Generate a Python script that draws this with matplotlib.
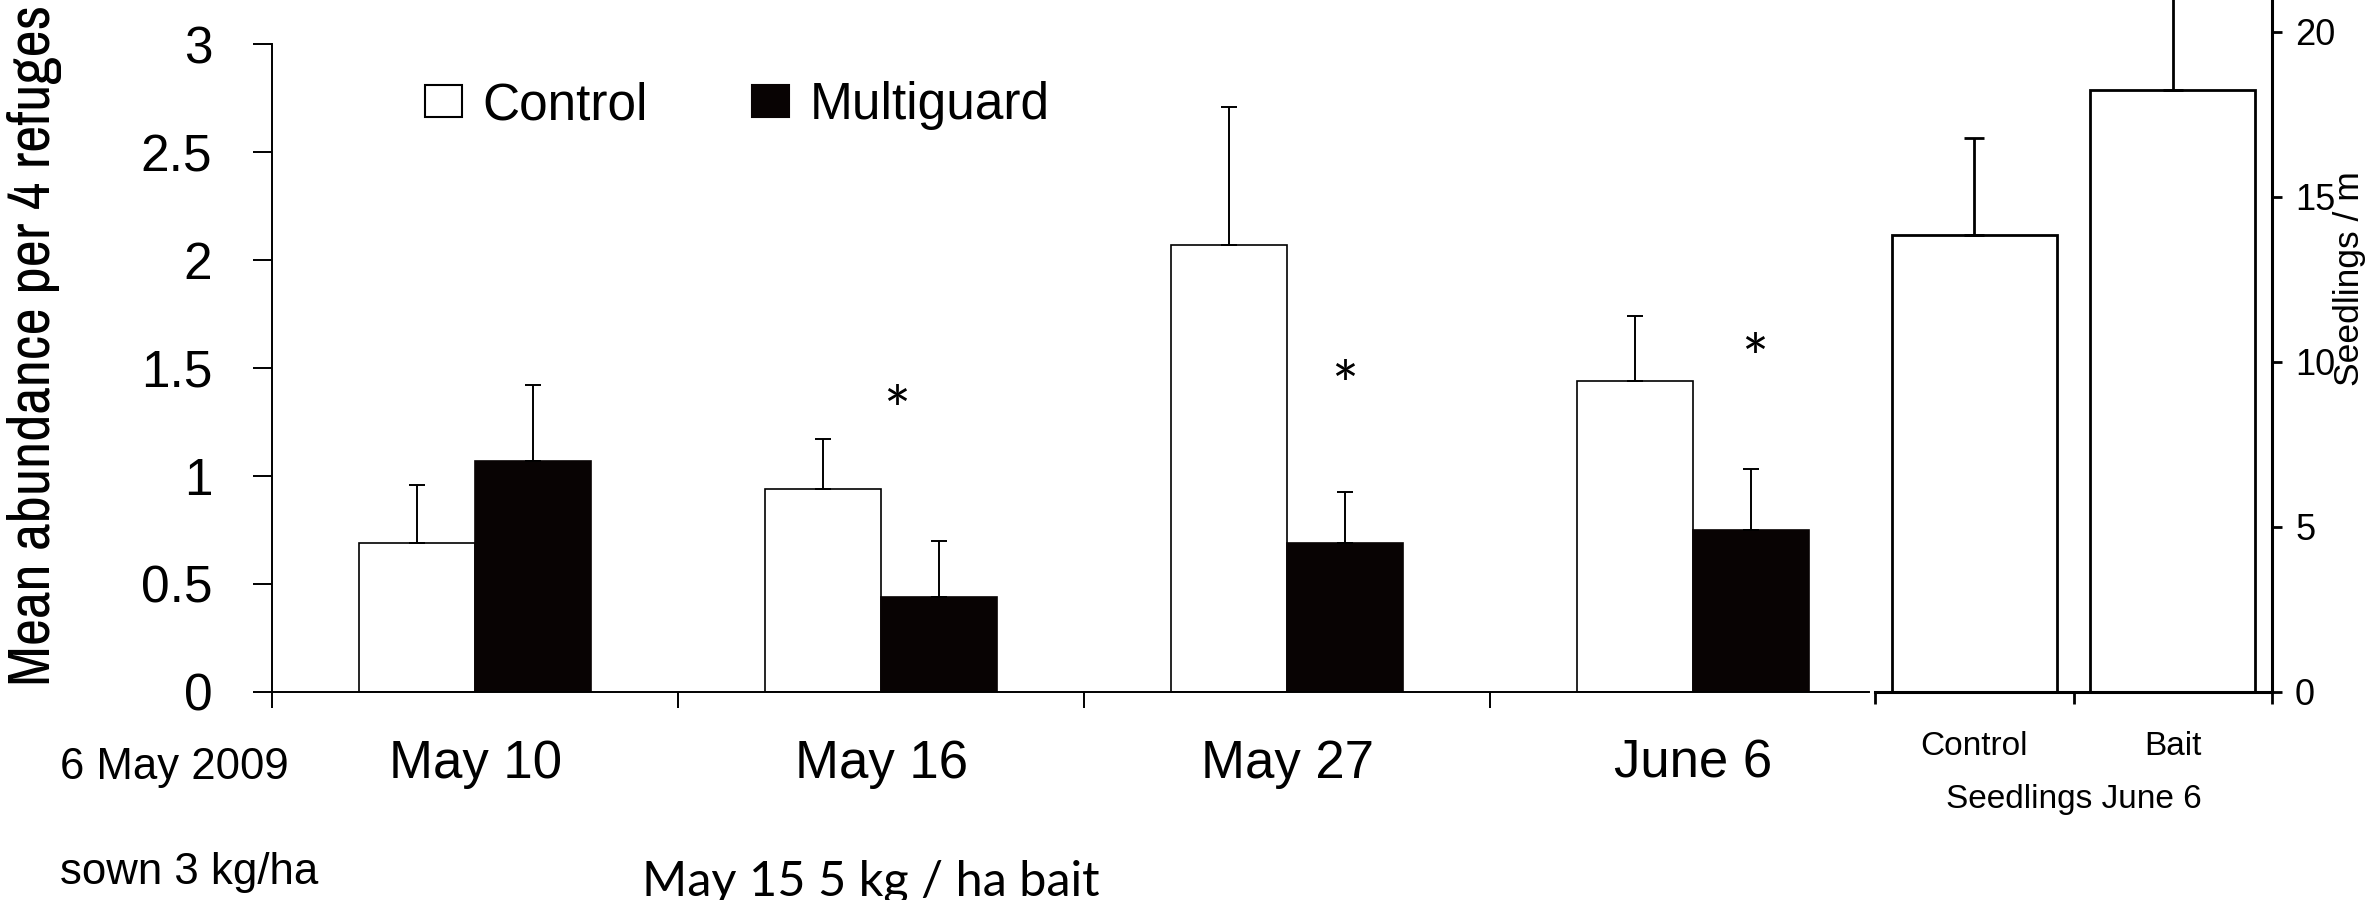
import numpy as np
import matplotlib
matplotlib.use('Agg')
import matplotlib.pyplot as plt
from matplotlib import transforms
from matplotlib.patches import Patch
import matplotlib.font_manager as fm

# ---------------- data ----------------
dates = ['May 10', 'May 16', 'May 27', 'June 6']
control = [0.69, 0.94, 2.07, 1.44]
control_err = [0.27, 0.23, 0.64, 0.30]
multiguard = [1.07, 0.44, 0.69, 0.75]
multiguard_err = [0.35, 0.26, 0.235, 0.28]
star_x = [1.538, 2.640, 3.652]      # asterisk positions (group units)
star_y = [1.375, 1.49, 1.615]
yticks_left = [0, 0.5, 1, 1.5, 2, 2.5, 3]
ytick_labels_left = ['0', '0.5', '1', '1.5', '2', '2.5', '3']

seedling_groups = ['Control', 'Bait']
seedlings = [13.83, 18.23]
seedlings_err = [2.95, 4.6]
yticks_right = [0, 5, 10, 15, 20]

BLACK = '#080303'
W, H = 2366, 900

plt.rcParams['font.family'] = ['Liberation Sans', 'DejaVu Sans']


def find_condensed():
    best = None
    for f in fm.fontManager.ttflist:
        nm = f.name.lower()
        st = f.stretch
        if isinstance(st, str):
            cond = st in ('condensed', 'extra-condensed', 'ultra-condensed', 'semi-condensed')
        else:
            cond = st < 100
        if not (cond or 'narrow' in nm or 'condensed' in nm):
            continue
        if f.style != 'normal':
            continue
        w = f.weight if isinstance(f.weight, int) else (400 if f.weight in ('normal', 'regular', 'book') else 700)
        if w != 400:
            continue
        if 'mono' in nm or 'serif' in nm and 'sans' not in nm:
            continue
        if 'narrow' in nm or 'extracondensed' in nm.replace(' ', '') or st in ('extra-condensed',):
            score = 2
        elif 'semi' in nm or st == 'semi-condensed':
            score = 0
        else:
            score = 1
        if 'dejavu' in nm:
            score -= 1
        if best is None or score > best[0]:
            best = (score, f.fname)
    return best[1] if best else None


cfile = find_condensed()
if cfile:
    ylab_fp = fm.FontProperties(fname=cfile)
else:
    ylab_fp = fm.FontProperties(family='Liberation Sans')

fig = plt.figure(figsize=(W / 100, H / 100), dpi=100)


def px(v):
    return v / W


def py(v):
    return 1 - v / H


# ---------------- main panel ----------------
x0, x1, ytop, ybase = 272.3, 1869.0, 44.2, 691.7
ax = fig.add_axes([px(x0), py(ybase), px(x1) - px(x0), py(ytop) - py(ybase)])
ax.patch.set_alpha(0)
x = np.arange(len(dates)) + 0.5
bw = 0.286
ax.bar(x - bw / 2, control, bw, color='white', edgecolor='black', linewidth=1.2, zorder=2)
ax.bar(x + bw / 2, multiguard, bw, color=BLACK, edgecolor=BLACK, linewidth=1.2, zorder=2)
zeros = np.zeros(len(dates))
ax.errorbar(x - bw / 2, control, yerr=[zeros, control_err], fmt='none', ecolor='black',
            elinewidth=1.4, capsize=5.7, capthick=1.4, zorder=3)
ax.errorbar(x + bw / 2, multiguard, yerr=[zeros, multiguard_err], fmt='none', ecolor='black',
            elinewidth=1.4, capsize=5.7, capthick=1.4, zorder=3)

ax.set_xlim(0, (x1 - x0) / 406.0)
ax.set_ylim(0, 3)
ax.set_xticks([0, 1, 2, 3])
ax.set_xticklabels([])
ax.set_yticks(yticks_left)
ax.set_yticklabels(ytick_labels_left)
ax.tick_params(axis='y', length=13.7, width=1.4, pad=29.5, labelsize=37, colors='black')
ax.tick_params(axis='x', length=11.5, width=1.4)
for s in ['top', 'right']:
    ax.spines[s].set_visible(False)
for s in ['left', 'bottom']:
    ax.spines[s].set_linewidth(1.4)

tr = transforms.blended_transform_factory(ax.transData, fig.transFigure)
for xi, d in zip(x, dates):
    ax.text(xi, py(778), d, transform=tr, ha='center', va='baseline', fontsize=38)

# significance asterisks
STAR_FS = 46
off = transforms.ScaledTranslation(0, -0.6 * STAR_FS / 72, fig.dpi_scale_trans)
for sx, sy in zip(star_x, star_y):
    ax.text(sx, sy, '*', transform=ax.transData + off, ha='center', va='baseline',
            fontsize=STAR_FS, family=['Lato', 'DejaVu Sans'])

handles = [Patch(facecolor='white', edgecolor='black', linewidth=1.5, label='Control'),
           Patch(facecolor=BLACK, edgecolor=BLACK, linewidth=1.5, label='Multiguard')]
ax.legend(handles=handles, loc='center left', bbox_to_anchor=(px(425), py(105.5)),
          bbox_transform=fig.transFigure, ncol=2, frameon=False, fontsize=37,
          handlelength=0.72, handleheight=0.58, handletextpad=0.39,
          columnspacing=2.04, borderpad=0, borderaxespad=0)

# ---------------- seedlings panel ----------------
r0, r1 = 1875.0, 2272.0
ax2 = fig.add_axes([px(r0), py(ybase), px(r1) - px(r0), 1 - py(ybase)])
ax2.patch.set_alpha(0)
xs = np.arange(len(seedling_groups)) + 0.5
ax2.bar(xs, seedlings, 0.83, color='white', edgecolor='black', linewidth=2.0, zorder=2)
ax2.errorbar(xs, seedlings, yerr=[np.zeros(len(xs)), seedlings_err], fmt='none',
             ecolor='black', elinewidth=2.0, capsize=7.5, capthick=2.0, zorder=3)
ax2.set_xlim(0, 2)
ax2.set_ylim(0, ybase / 33.0)
ax2.set_xticks([0, 1, 2])
ax2.set_xticklabels([])
ax2.yaxis.tick_right()
ax2.set_yticks(yticks_right)
ax2.set_yticklabels([str(v) for v in yticks_right])
ax2.tick_params(axis='y', length=7.2, width=2.0, pad=9.4, labelsize=26)
ax2.tick_params(axis='x', length=8.6, width=2.0)
for s in ['top', 'left']:
    ax2.spines[s].set_visible(False)
for s in ['right', 'bottom']:
    ax2.spines[s].set_linewidth(2.2)

tr2 = transforms.blended_transform_factory(ax2.transData, fig.transFigure)
for xi, g in zip(xs, seedling_groups):
    ax2.text(xi, py(755), g, transform=tr2, ha='center', va='baseline', fontsize=24)
ax2.text(1.0, py(808), 'Seedlings June 6', transform=tr2, ha='center', va='baseline', fontsize=24)

fig.text(px(2333), py(278.5), 'Seedlings / m', rotation=90, ha='left', va='center', fontsize=25.5)

# ---------------- left y label (condensed) ----------------
ylab = fig.text(px(7), py(686), 'Mean abundance per 4 refuges', rotation=90,
                ha='left', va='bottom', fontproperties=ylab_fp)
ylab.set_fontsize(40)
fig.canvas.draw()
ext = ylab.get_window_extent()
ylab.set_fontsize(min(54, 40 * 681.0 / ext.height))

# ---------------- annotations below ----------------
fig.text(px(60), py(779), '6 May 2009', ha='left', va='baseline', fontsize=31.5)
fig.text(px(60), py(884), 'sown 3 kg/ha', ha='left', va='baseline', fontsize=31.5)
fig.text(px(642), py(895), 'May 15 5 kg / ha bait', ha='left', va='baseline', fontsize=35,
         family=['Lato', 'DejaVu Sans'])

fig.savefig('out.png', dpi=100)
